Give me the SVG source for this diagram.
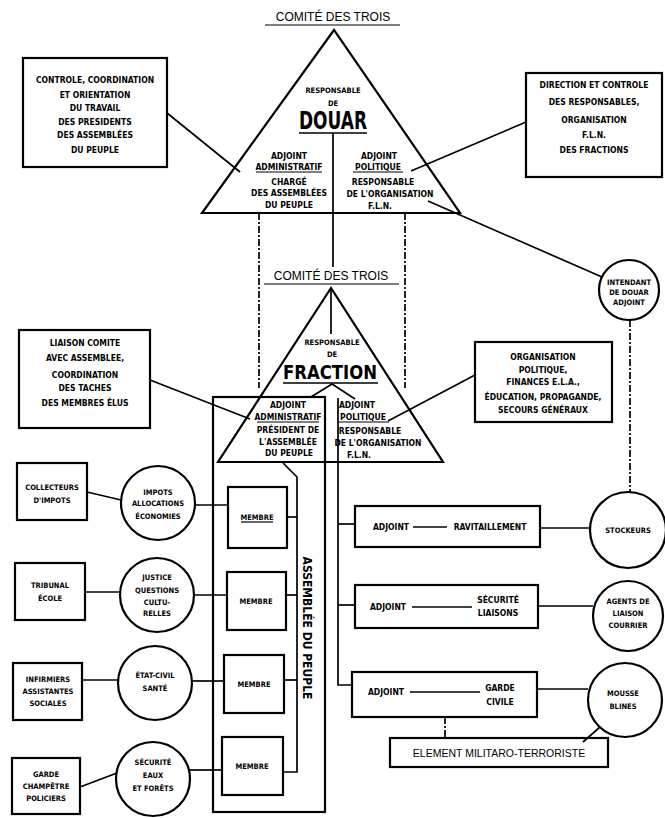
<svg xmlns="http://www.w3.org/2000/svg" width="665" height="818" viewBox="0 0 665 818">
<style>
.s{font-family:'Liberation Sans Narrow','DejaVu Sans Condensed','Liberation Sans',sans-serif;font-stretch:condensed;font-weight:bold;font-size:8.5px;text-anchor:middle;fill:#000}
.m{font-size:7.5px}
.c{font-family:'Liberation Sans',Arial,sans-serif;font-size:12px;text-anchor:middle;fill:#000}
.e{font-family:'Liberation Sans',Arial,sans-serif;font-size:10.5px;text-anchor:middle;fill:#000}
.big{font-family:'Liberation Sans Narrow','DejaVu Sans Condensed','Liberation Sans',sans-serif;font-stretch:condensed;font-weight:bold;text-anchor:middle;fill:#000}
.b{fill:none;stroke:#000;stroke-width:2.2}
.l{fill:none;stroke:#000;stroke-width:1.7}
.u{fill:none;stroke:#000;stroke-width:1.2}
.d{stroke-dasharray:7 2 2 2}
</style>
<rect width="665" height="818" fill="#fff"/>

<g id="connectors">
  <line class="l" x1="167" y1="113" x2="240" y2="172"/>
  <line class="l" x1="526" y1="122" x2="411" y2="171"/>
  <line class="l" x1="428" y1="201" x2="602" y2="277"/>
  <line class="l" x1="333" y1="133" x2="333" y2="267"/>
  <line class="l d" x1="259" y1="213" x2="259" y2="388"/>
  <line class="l d" x1="405" y1="213" x2="405" y2="388"/>
  <line class="l d" x1="630" y1="320" x2="630" y2="492"/>
  <line class="l" x1="331" y1="288" x2="331" y2="334"/>
  <line class="l" x1="332" y1="384" x2="311" y2="397"/>
  <line class="l" x1="332" y1="384" x2="355" y2="399"/>
  <line class="l" x1="150" y1="380" x2="250" y2="419"/>
  <line class="l" x1="475" y1="375" x2="388" y2="421"/>
  <polyline class="l" points="283,463 297,477 297,772 283,772"/>
  <line class="l" x1="287" y1="517" x2="297" y2="517"/>
  <line class="l" x1="286" y1="595" x2="297" y2="595"/>
  <line class="l" x1="284" y1="680" x2="297" y2="680"/>
  <polyline class="l" points="338,398 338,685 352,685"/>
  <line class="l" x1="338" y1="524" x2="355" y2="524"/>
  <line class="l" x1="338" y1="605" x2="355" y2="605"/>
  <line class="l" x1="87" y1="492" x2="121" y2="500"/>
  <line class="l" x1="195" y1="505" x2="228" y2="505"/>
  <line class="l" x1="85" y1="592" x2="120" y2="592"/>
  <line class="l" x1="194" y1="595" x2="227" y2="595"/>
  <line class="l" x1="82" y1="680" x2="118" y2="680"/>
  <line class="l" x1="192" y1="681" x2="224" y2="681"/>
  <line class="l" x1="80" y1="787" x2="117" y2="773"/>
  <line class="l" x1="190" y1="770" x2="222" y2="770"/>
  <line class="l" x1="540" y1="528" x2="590" y2="528"/>
  <line class="l" x1="538" y1="606" x2="593" y2="606"/>
  <line class="l" x1="537" y1="689" x2="588" y2="689"/>
  <line class="l d" x1="445" y1="717" x2="445" y2="738"/>
  <line class="l" x1="583" y1="742" x2="600" y2="727"/>
</g>

<g id="comite-top">
  <text class="c" x="333" y="21">COMITÉ DES TROIS</text>
  <line class="u" x1="265" y1="25" x2="400" y2="25"/>
</g>

<g id="douar">
  <polygon class="b" points="334,30 202,213 460,213"/>
  <text class="s m" x="333" y="93">RESPONSABLE</text>
  <text class="s m" x="333" y="106">DE</text>
  <text class="big" x="333" y="129" font-size="24" textLength="68" lengthAdjust="spacingAndGlyphs">DOUAR</text>
  <line class="l" x1="299" y1="133" x2="367" y2="133"/>
  <text class="s" x="289" y="159">ADJOINT</text>
  <text class="s" x="289" y="170">ADMINISTRATIF</text>
  <line class="u" x1="256" y1="172" x2="322" y2="172"/>
  <text class="s" x="289" y="185">CHARGÉ</text>
  <text class="s" x="289" y="196">DES ASSEMBLÉES</text>
  <text class="s" x="289" y="208">DU PEUPLE</text>
  <text class="s" x="379" y="159">ADJOINT</text>
  <text class="s" x="378" y="170">POLITIQUE</text>
  <line class="u" x1="353" y1="172" x2="403" y2="172"/>
  <text class="s" x="383" y="185">RESPONSABLE</text>
  <text class="s" x="390" y="197">DE L'ORGANISATION</text>
  <text class="s" x="380" y="209">F.L.N.</text>
</g>

<g id="box-controle">
  <rect class="b" x="23" y="58" width="144" height="109"/>
  <text class="s" x="95" y="83">CONTROLE, COORDINATION</text>
  <text class="s" x="95" y="98">ET ORIENTATION</text>
  <text class="s" x="95" y="111">DU TRAVAIL</text>
  <text class="s" x="95" y="125">DES PRESIDENTS</text>
  <text class="s" x="95" y="138">DES ASSEMBLÉES</text>
  <text class="s" x="95" y="153">DU PEUPLE</text>
</g>

<g id="box-direction">
  <rect class="b" x="526" y="73" width="136" height="104"/>
  <text class="s" x="594" y="88">DIRECTION ET CONTROLE</text>
  <text class="s" x="594" y="105">DES RESPONSABLES,</text>
  <text class="s" x="594" y="123">ORGANISATION</text>
  <text class="s" x="594" y="138">F.L.N.</text>
  <text class="s" x="594" y="153">DES FRACTIONS</text>
</g>

<g id="intendant">
  <circle class="b" cx="629" cy="290" r="30"/>
  <text class="s m" x="629" y="285">INTENDANT</text>
  <text class="s m" x="629" y="295">DE DOUAR</text>
  <text class="s m" x="629" y="305">ADJOINT</text>
</g>

<g id="comite-fraction">
  <text class="c" x="331" y="280">COMITÉ DES TROIS</text>
  <line class="u" x1="264" y1="284" x2="399" y2="284"/>
</g>

<g id="fraction">
  <polygon class="b" points="331,288 218,462 443,462"/>
  <text class="s m" x="332" y="345">RESPONSABLE</text>
  <text class="s m" x="332" y="357">DE</text>
  <text class="big" x="330" y="379" font-size="20" textLength="94" lengthAdjust="spacingAndGlyphs">FRACTION</text>
  <line class="l" x1="283" y1="383" x2="378" y2="383"/>
  <text class="s" x="288" y="408">ADJOINT</text>
  <text class="s" x="288" y="420">ADMINISTRATIF</text>
  <line class="u" x1="257" y1="422" x2="319" y2="422"/>
  <text class="s" x="288" y="433">PRÉSIDENT DE</text>
  <text class="s" x="288" y="445">L'ASSEMBLÉE</text>
  <text class="s" x="289" y="456">DU PEUPLE</text>
  <text class="s" x="357" y="408">ADJOINT</text>
  <text class="s" x="363" y="420">POLITIQUE</text>
  <line class="u" x1="339" y1="422" x2="389" y2="422"/>
  <text class="s" x="370" y="434">RESPONSABLE</text>
  <text class="s" x="378" y="446">DE L'ORGANISATION</text>
  <text class="s" x="359" y="458">F.L.N.</text>
</g>

<g id="box-liaison">
  <rect class="b" x="19" y="330" width="131" height="98"/>
  <text class="s" x="85" y="346">LIAISON COMITE</text>
  <text class="s" x="85" y="361">AVEC ASSEMBLEE,</text>
  <text class="s" x="85" y="378">COORDINATION</text>
  <text class="s" x="85" y="391">DES TACHES</text>
  <text class="s" x="85" y="406">DES MEMBRES ÉLUS</text>
</g>

<g id="box-organisation">
  <rect class="b" x="475" y="342" width="137" height="80"/>
  <text class="s" x="543" y="360">ORGANISATION</text>
  <text class="s" x="543" y="373">POLITIQUE,</text>
  <text class="s" x="543" y="385">FINANCES E.L.A.,</text>
  <text class="s" x="543" y="400">ÉDUCATION, PROPAGANDE,</text>
  <text class="s" x="543" y="413">SECOURS GÉNÉRAUX</text>
</g>

<g id="assemblee">
  <rect class="b" x="213" y="397" width="112" height="415"/>
  <text class="big" font-size="12" transform="translate(307,628) rotate(90)" x="0" y="4">ASSEMBLÉE DU PEUPLE</text>
</g>

<g id="membre1">
  <rect class="b" x="228" y="487" width="59" height="61"/>
  <text class="s m" x="257" y="520">MEMBRE</text>
  <line class="u" x1="241" y1="522" x2="273" y2="522"/>
</g>
<g id="membre2">
  <rect class="b" x="227" y="572" width="59" height="58"/>
  <text class="s m" x="256" y="604">MEMBRE</text>
</g>
<g id="membre3">
  <rect class="b" x="224" y="655" width="60" height="58"/>
  <text class="s m" x="254" y="687">MEMBRE</text>
</g>
<g id="membre4">
  <rect class="b" x="222" y="737" width="61" height="58"/>
  <text class="s m" x="252" y="769">MEMBRE</text>
</g>

<g id="collecteurs">
  <rect class="b" x="17" y="463" width="70" height="57"/>
  <text class="s m" x="52" y="490">COLLECTEURS</text>
  <text class="s m" x="52" y="503">D'IMPOTS</text>
</g>
<g id="impots">
  <circle class="b" cx="158" cy="503" r="37"/>
  <text class="s m" x="158" y="495">IMPOTS</text>
  <text class="s m" x="158" y="506">ALLOCATIONS</text>
  <text class="s m" x="158" y="519">ÉCONOMIES</text>
</g>
<g id="tribunal">
  <rect class="b" x="15" y="563" width="70" height="57"/>
  <text class="s m" x="50" y="588">TRIBUNAL</text>
  <text class="s m" x="50" y="601">ÉCOLE</text>
</g>
<g id="justice">
  <circle class="b" cx="157" cy="595" r="37"/>
  <text class="s m" x="157" y="580">JUSTICE</text>
  <text class="s m" x="157" y="593">QUESTIONS</text>
  <text class="s m" x="157" y="605">CULTU-</text>
  <text class="s m" x="157" y="616">RELLES</text>
</g>
<g id="infirmiers">
  <rect class="b" x="13" y="663" width="69" height="57"/>
  <text class="s m" x="48" y="682">INFIRMIERS</text>
  <text class="s m" x="48" y="694">ASSISTANTES</text>
  <text class="s m" x="48" y="706">SOCIALES</text>
</g>
<g id="etat-civil">
  <circle class="b" cx="155" cy="683" r="37"/>
  <text class="s m" x="155" y="678">ÉTAT-CIVIL</text>
  <text class="s m" x="155" y="691">SANTÉ</text>
</g>
<g id="garde-champetre">
  <rect class="b" x="12" y="758" width="68" height="56"/>
  <text class="s m" x="46" y="777">GARDE</text>
  <text class="s m" x="46" y="789">CHAMPÊTRE</text>
  <text class="s m" x="46" y="801">POLICIERS</text>
</g>
<g id="securite">
  <circle class="b" cx="153" cy="779" r="37"/>
  <text class="s m" x="153" y="765">SÉCURITÉ</text>
  <text class="s m" x="153" y="778">EAUX</text>
  <text class="s m" x="153" y="791">ET FORÊTS</text>
</g>

<g id="adjoint-ravitaillement">
  <rect class="b" x="355" y="506" width="185" height="41"/>
  <text class="s" x="391" y="530">ADJOINT</text>
  <line class="l" x1="413" y1="527" x2="447" y2="527"/>
  <text class="s" x="490" y="530">RAVITAILLEMENT</text>
</g>
<g id="stockeurs">
  <circle class="b" cx="628" cy="530" r="38"/>
  <text class="s m" x="628" y="533">STOCKEURS</text>
</g>
<g id="adjoint-securite">
  <rect class="b" x="355" y="585" width="183" height="43"/>
  <text class="s" x="388" y="610">ADJOINT</text>
  <line class="l" x1="412" y1="607" x2="472" y2="607"/>
  <text class="s" x="498" y="603">SÉCURITÉ</text>
  <text class="s" x="498" y="616">LIAISONS</text>
</g>
<g id="agents">
  <circle class="b" cx="628" cy="616" r="35"/>
  <text class="s m" x="628" y="604">AGENTS DE</text>
  <text class="s m" x="628" y="616">LIAISON</text>
  <text class="s m" x="628" y="628">COURRIER</text>
</g>
<g id="adjoint-garde">
  <rect class="b" x="352" y="672" width="185" height="45"/>
  <text class="s" x="386" y="695">ADJOINT</text>
  <line class="l" x1="410" y1="692" x2="480" y2="692"/>
  <text class="s" x="500" y="691">GARDE</text>
  <text class="s" x="500" y="705">CIVILE</text>
</g>
<g id="moussebilines">
  <circle class="b" cx="625" cy="700" r="37"/>
  <text class="s m" x="623" y="696">MOUSSE</text>
  <text class="s m" x="623" y="709">BLINES</text>
</g>
<g id="element">
  <rect class="b" x="390" y="738" width="218" height="29"/>
  <text class="e" x="499" y="757">ELEMENT MILITARO-TERRORISTE</text>
</g>
</svg>
